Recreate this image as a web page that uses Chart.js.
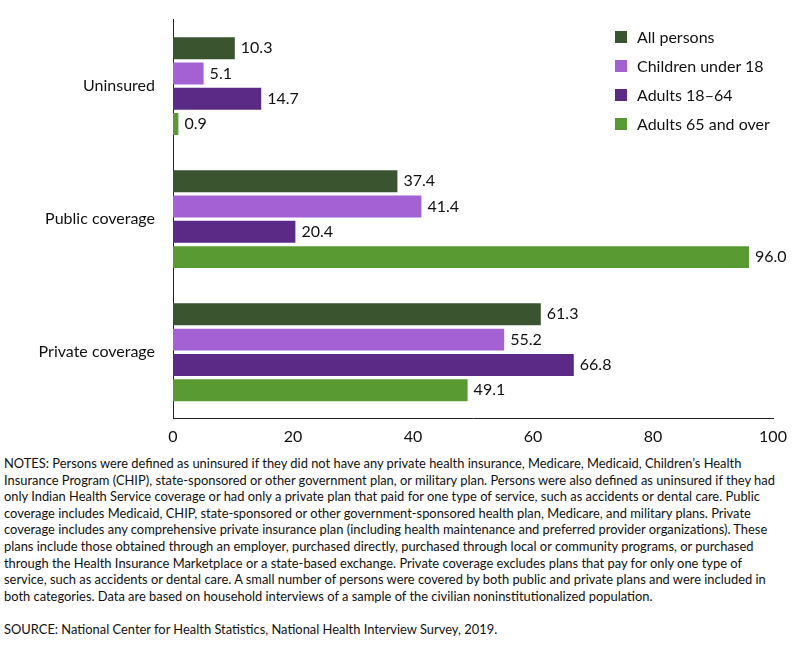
<!DOCTYPE html>
<html><head><meta charset="utf-8">
<script src="https://cdn.jsdelivr.net/npm/chart.js@4"></script>
<style>
body{margin:0;background:#fff;font-family:Lato,"Open Sans",sans-serif;}
#wrap{position:relative;width:800px;height:450px;}
#legend{position:absolute;left:615px;top:22px;font-size:16px;color:#111;}
#legend div{height:29px;display:flex;align-items:center;}
#legend span{display:inline-block;width:12px;height:12px;margin-right:10px;}
#notes{position:absolute;left:4px;top:455px;width:798px;font-size:12.9px;line-height:16.6px;color:#111;white-space:nowrap;}
</style></head><body>
<div id="wrap"><canvas id="c" width="800" height="450"></canvas>
<div id="legend"></div></div>
<div id="notes">NOTES: Persons were defined as uninsured if they did not have any private health insurance, Medicare, Medicaid, Children’s Health<br>Insurance Program (CHIP), state-sponsored or other government plan, or military plan. Persons were also defined as uninsured if they had<br>only Indian Health Service coverage or had only a private plan that paid for one type of service, such as accidents or dental care. Public<br>coverage includes Medicaid, CHIP, state-sponsored or other government-sponsored health plan, Medicare, and military plans. Private<br>coverage includes any comprehensive private insurance plan (including health maintenance and preferred provider organizations). These<br>plans include those obtained through an employer, purchased directly, purchased through local or community programs, or purchased<br>through the Health Insurance Marketplace or a state-based exchange. Private coverage excludes plans that pay for only one type of<br>service, such as accidents or dental care. A small number of persons were covered by both public and private plans and were included in<br>both categories. Data are based on household interviews of a sample of the civilian noninstitutionalized population.<br><br>SOURCE: National Center for Health Statistics, National Health Interview Survey, 2019.</div>
<script>
const categories=["Uninsured","Public coverage","Private coverage"];
const seriesNames=["All persons","Children under 18","Adults 18–64","Adults 65 and over"];
const allPersons=[10.3,37.4,61.3];
const children=[5.1,41.4,55.2];
const adults1864=[14.7,20.4,66.8];
const adults65=[0.9,96.0,49.1];
const xTicks=[0,20,40,60,80,100];
const colors=["#3b5430","#a461d3","#5b2a86","#5a9a32"];
const values=[allPersons,children,adults1864,adults65];
const lg=document.getElementById('legend');
seriesNames.forEach((n,i)=>{lg.innerHTML+=`<div><span style="background:${colors[i]}"></span>${n}</div>`;});
const labelPlugin={id:'lbl',afterDatasetsDraw(ch){const ctx=ch.ctx;ctx.save();ctx.font='16px Lato';ctx.fillStyle='#111';ctx.textBaseline='middle';
ch.data.datasets.forEach((d,i)=>{ch.getDatasetMeta(i).data.forEach((b,j)=>{ctx.fillText(d.data[j].toFixed(1),b.x+6,b.y);});});ctx.restore();}};
new Chart(document.getElementById('c'),{type:'bar',
data:{labels:categories,datasets:values.map((v,i)=>({label:seriesNames[i],data:v,backgroundColor:colors[i],categoryPercentage:0.76,barPercentage:0.87}))},
options:{indexAxis:'y',responsive:false,animation:false,
layout:{padding:{top:2,right:27,left:0,bottom:2}},
plugins:{legend:{display:false},tooltip:{enabled:false}},
scales:{x:{min:0,max:100,afterBuildTicks(a){a.ticks=xTicks.map(v=>({value:v}));},grid:{display:false,drawTicks:true,tickLength:6,color:'#222'},border:{color:'#222'},ticks:{color:'#111',font:{size:16,family:'Lato'},padding:2}},
y:{grid:{display:false},border:{color:'#222'},afterFit(s){s.width=173;},ticks:{color:'#111',font:{size:16,family:'Lato'},padding:10}}}},
plugins:[labelPlugin]});
</script></body></html>
